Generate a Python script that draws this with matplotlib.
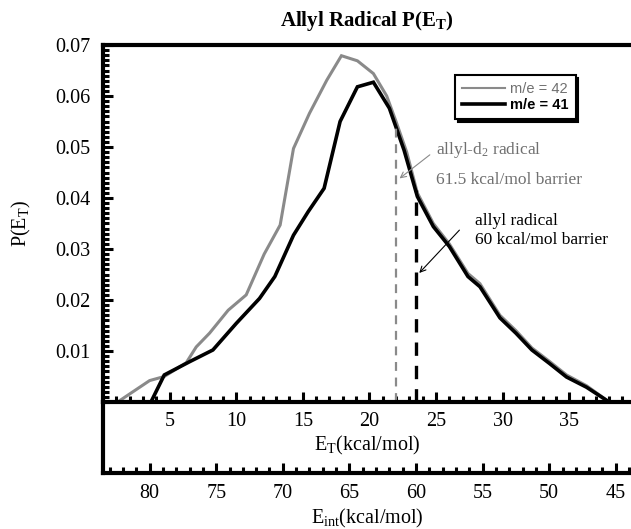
import matplotlib
matplotlib.use("Agg")
import matplotlib.pyplot as plt
from matplotlib.lines import Line2D
from matplotlib.ticker import MultipleLocator, FixedLocator

# m/e = 42 (allyl-d2), grey trace
et_42 = [1.1, 3.5, 4.6, 6.25, 7.0, 8.0, 9.4, 10.75, 12.1, 13.3, 14.3, 15.5, 16.8,
         17.9, 19.1, 20.3, 21.3, 22.0, 22.8, 23.6, 24.8, 26.0, 27.4, 28.3, 29.8,
         31.0, 32.2, 33.5, 34.8, 36.3, 38.0]
p_42 = [0.0, 0.0042, 0.0050, 0.0077, 0.0108, 0.0135, 0.0180, 0.0210, 0.0290, 0.0347,
        0.0497, 0.0566, 0.0631, 0.0679, 0.0669, 0.0644, 0.0600, 0.0550, 0.0490, 0.0410,
        0.0350, 0.0310, 0.0252, 0.0232, 0.0170, 0.0140, 0.0106, 0.0080, 0.0053, 0.0032, 0.0]

# m/e = 41 (allyl), black trace
et_41 = [3.6, 4.6, 6.5, 8.25, 10.0, 11.75, 12.9, 14.3, 15.4, 16.6, 17.8, 19.1, 20.3,
         21.5, 22.6, 23.6, 24.8, 26.0, 27.4, 28.3, 29.8, 31.0, 32.2, 33.5, 34.8, 36.3, 38.0]
p_41 = [0.0, 0.0053, 0.0079, 0.0102, 0.0154, 0.0203, 0.0246, 0.0327, 0.0373, 0.0419,
        0.0550, 0.0618, 0.0627, 0.0576, 0.0494, 0.0403, 0.0344, 0.0305, 0.0246, 0.0226,
        0.0165, 0.0135, 0.0102, 0.0076, 0.0049, 0.0029, 0.0]

e_avail = 83.5          # E_int = e_avail - E_T
barriers = [61.5, 60.0]  # kcal/mol, allyl-d2 / allyl
barrier_tops = [0.0550, 0.0415]
et_ticks = [5, 10, 15, 20, 25, 30, 35]
eint_ticks = [80, 75, 70, 65, 60, 55, 50, 45]
y_ticks = [0.01, 0.02, 0.03, 0.04, 0.05, 0.06, 0.07]

grey = "#8a8a8a"
serif = "Liberation Serif"
plt.rcParams["font.family"] = serif
plt.rcParams["mathtext.fontset"] = "custom"
plt.rcParams["mathtext.rm"] = serif
plt.rcParams["mathtext.it"] = serif + ":italic"
plt.rcParams["mathtext.bf"] = serif + ":bold"

fig = plt.figure(figsize=(6.31, 5.29), dpi=100)
ax = fig.add_axes([103 / 631, 1 - 402 / 529, 528 / 631, 357 / 529])
ax2 = fig.add_axes([103 / 631, 1 - 473 / 529, 528 / 631, 71 / 529])
ax2.patch.set_visible(False)

xmax = 39.64
ax.set_xlim(0, xmax)
ax.set_ylim(0, 0.07)

ax.plot(et_42, p_42, color=grey, lw=2.2, solid_joinstyle="miter")
ax.plot(et_41, p_41, color="black", lw=2.6, solid_joinstyle="miter")

colors = [grey, "black"]
widths = [1.6, 2.4]
for b, top, c, w in zip(barriers, barrier_tops, colors, widths):
    x = e_avail - b
    ax.plot([x, x], [0, top], color=c, lw=w, ls=(0, (4, 3)))

# annotations
ax.text(25.0, 0.0494, "allyl-d$_2$ radical", color="#707070", fontsize=12.5, ha="left", va="center")
ax.text(25.0, 0.0436, "61.5 kcal/mol barrier", color="#707070", fontsize=12.5, ha="left", va="center")
ax.text(27.9, 0.0355, "allyl radical", color="black", fontsize=12.5, ha="left", va="center")
ax.text(27.9, 0.0318, "60 kcal/mol barrier", color="black", fontsize=12.5, ha="left", va="center")
ax.annotate("", xy=(e_avail - barriers[0] + 0.1, 0.0435), xytext=(24.7, 0.0488),
            arrowprops=dict(arrowstyle="->", color=grey, lw=0.8))
ax.annotate("", xy=(e_avail - barriers[1] + 0.1, 0.0249), xytext=(26.9, 0.0341),
            arrowprops=dict(arrowstyle="->", color="black", lw=0.8))

# axes styling
for a in (ax, ax2):
    a.spines["right"].set_visible(False)
    for s in a.spines.values():
        s.set_linewidth(3.0)
ax2.spines["top"].set_visible(False)

ax.xaxis.set_major_locator(FixedLocator(et_ticks))
ax.xaxis.set_minor_locator(MultipleLocator(1))
ax.yaxis.set_major_locator(FixedLocator(y_ticks))
ax.yaxis.set_minor_locator(MultipleLocator(0.001))
ax.set_yticklabels(["%.2f" % v for v in y_ticks])
ax.tick_params(which="both", direction="in", width=2.2, labelsize=14.5, pad=7)
ax.tick_params(which="major", length=7)
ax.tick_params(which="minor", length=4)
ax.tick_params(axis="y", pad=9)

ax2.set_xlim(e_avail, e_avail - xmax)
ax2.set_yticks([])
ax2.xaxis.set_major_locator(FixedLocator(eint_ticks))
ax2.xaxis.set_minor_locator(MultipleLocator(1))
ax2.tick_params(which="both", direction="in", width=2.2, labelsize=14.5, pad=8)
ax2.tick_params(which="major", length=7)
ax2.tick_params(which="minor", length=4)

ax.set_xlabel("E$_\\mathrm{T}$(kcal/mol)", fontsize=14.5, labelpad=2)
ax2.set_xlabel("E$_\\mathrm{int}$(kcal/mol)", fontsize=14.5, labelpad=3)
ax.set_ylabel("P(E$_\\mathrm{T}$)", fontsize=14.5, labelpad=16)
ax.set_title("Allyl Radical P(E$_\\mathbf{T}$)", fontsize=15, fontweight="bold", pad=14)

handles = [Line2D([], [], color=grey, lw=1.5), Line2D([], [], color="black", lw=2.6)]
leg = ax.legend(handles, ["m/e = 42", "m/e = 41"], loc="upper left",
                bbox_to_anchor=(0.667, 0.916), frameon=True, fancybox=False,
                shadow={"color": "black", "alpha": 1}, handlelength=2.9,
                handletextpad=0.35, borderpad=0.5, labelspacing=0.1,
                prop={"family": "Liberation Sans", "size": 10.5}, borderaxespad=0)
leg.get_frame().set_edgecolor("black")
leg.get_frame().set_linewidth(1.5)
leg.get_texts()[0].set_color("#707070")
leg.get_texts()[1].set_fontweight("bold")

fig.savefig("out.png", dpi=100)
